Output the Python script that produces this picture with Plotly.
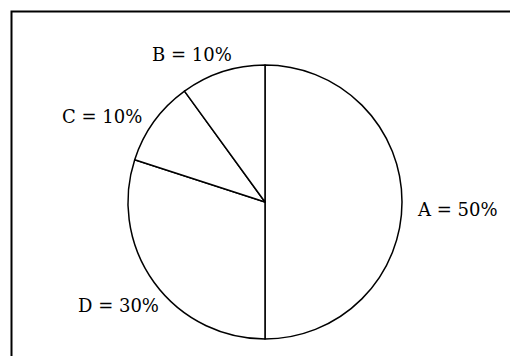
import plotly.graph_objects as go

# Data
labels = ["A", "D", "C", "B"]
values = [50, 30, 10, 10]

# label anchor positions (pixels in the 510x356 window)
label_pos = {"A": (457, 209), "B": (192, 55), "C": (102, 116), "D": (118, 305)}

W, H = 510, 356
cx, cy, r = 265, 202, 137

fig = go.Figure(go.Pie(
    labels=labels,
    values=values,
    sort=False,
    direction="clockwise",
    rotation=0,
    textinfo="none",
    hoverinfo="skip",
    showlegend=False,
    marker=dict(colors=["white"] * len(labels), line=dict(color="black", width=1.5)),
    domain=dict(x=[(cx - r) / W, (cx + r) / W], y=[(H - cy - r) / H, (H - cy + r) / H]),
))

annotations = []
for lab, val in zip(labels, values):
    px, py = label_pos[lab]
    annotations.append(dict(
        x=px / W, y=1 - py / H, xref="paper", yref="paper",
        text=f"{lab} = {val}%", showarrow=False,
        xanchor="center", yanchor="middle",
        font=dict(family="DejaVu Serif", size=18, color="black"),
    ))

bx, by = 11.5, 11.5
fig.update_layout(
    width=W, height=H,
    margin=dict(l=0, r=0, t=0, b=0),
    paper_bgcolor="white",
    plot_bgcolor="white",
    annotations=annotations,
    shapes=[dict(type="rect", xref="paper", yref="paper",
                 x0=bx / W, x1=1.2, y0=-0.2, y1=1 - by / H,
                 line=dict(color="black", width=2), fillcolor="rgba(0,0,0,0)")],
)

fig.write_html(
    "out.html",
    config={"displayModeBar": False},
    post_script="document.body.style.margin='0';document.body.style.overflow='hidden';",
)
